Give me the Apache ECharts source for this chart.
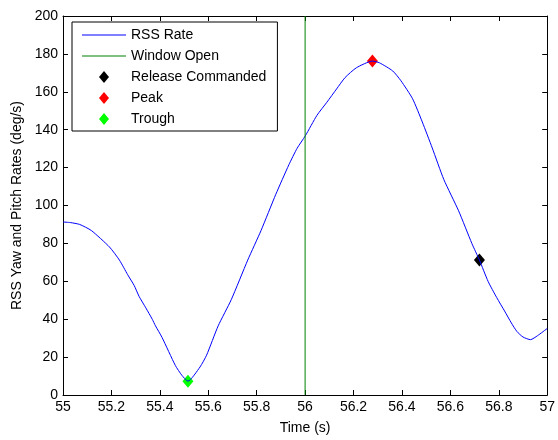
<!DOCTYPE html>
<html>
<head>
<meta charset="utf-8">
<script src="https://cdn.jsdelivr.net/npm/echarts@6/dist/echarts.min.js"></script>
<style>
html,body{margin:0;padding:0;background:#fff;}
#chart{width:558px;height:440px;}
</style>
</head>
<body>
<div id="chart"></div>
<script>
// Data
var timeS = [55.000, 55.030, 55.069, 55.117, 55.192, 55.233, 55.267, 55.294, 55.314, 55.342,
  55.369, 55.382, 55.409, 55.464, 55.491, 55.516, 55.566, 55.593, 55.641, 55.695,
  55.763, 55.818, 55.879, 55.933, 55.967, 56.001, 56.049, 56.090, 56.130, 56.165,
  56.212, 56.278, 56.307, 56.362, 56.396, 56.444, 56.484, 56.525, 56.573, 56.634,
  56.689, 56.720, 56.756, 56.791, 56.824, 56.852, 56.875, 56.900, 56.931, 56.960,
  57.000];
var rssRate = [91.3, 91.0, 90.0, 86.8, 78.1, 71.2, 63.5, 57.8, 52.1, 46.0,
  39.9, 36.5, 30.4, 15.6, 10.4, 7.3, 14.8, 21.0, 36.5, 50.3,
  71.2, 86.8, 105.9, 121.5, 130.2, 136.8, 147.6, 154.5, 161.5, 167.5,
  172.7, 176.2, 175.3, 171.0, 165.8, 156.3, 144.1, 130.4, 113.7, 97.2,
  79.9, 71.2, 59.9, 51.5, 44.3, 38.0, 33.5, 30.6, 29.2, 31.3,
  35.1];
var windowOpenT = 56.0;
var releasePt = [56.720, 71.2];
var peakPt = [56.278, 176.2];
var troughPt = [55.516, 7.3];
var xTicks = {min: 55, max: 57, step: 0.2};
var yTicks = {min: 0, max: 200, step: 20};
var legendNames = ['RSS Rate', 'Window Open', 'Release Commanded', 'Peak', 'Trough'];

var FONT = "'Liberation Sans', Arial, sans-serif";
var rssData = timeS.map(function (t, i) { return [t, rssRate[i]]; });
var LINE_ICON = 'path://M0,0H44V1H0Z';
var DIAMOND_ICON = 'path://M5,0L10,6L5,12L0,6Z';

function mkAxis(isX, main) {
  var tk = isX ? xTicks : yTicks;
  var a = {
    type: 'value',
    min: tk.min, max: tk.max, interval: tk.step,
    position: isX ? (main ? 'bottom' : 'top') : (main ? 'left' : 'right'),
    axisLine: {show: true, onZero: false, lineStyle: {color: '#000', width: 1}},
    axisTick: {show: true, inside: true, length: 5, lineStyle: {color: '#000', width: 1}},
    axisLabel: {show: main, color: '#000', fontSize: 14, fontFamily: FONT, margin: 5},
    splitLine: {show: false}
  };
  if (main) {
    a.name = isX ? 'Time (s)' : 'RSS Yaw and Pitch Rates (deg/s)';
    a.nameLocation = 'middle';
    a.nameGap = isX ? 26 : 36;
    a.nameTextStyle = {color: '#000', fontSize: 14, fontFamily: FONT};
  }
  return a;
}

var chart = echarts.init(document.getElementById('chart'), null, {renderer: 'canvas'});
chart.setOption({
  backgroundColor: '#fff',
  animation: false,
  grid: {left: 63, right: 5, top: 16, bottom: 40, containLabel: false},
  xAxis: [mkAxis(true, true), mkAxis(true, false)],
  yAxis: [mkAxis(false, true), mkAxis(false, false)],
  legend: {
    orient: 'vertical',
    left: 72, top: 22,
    padding: [6, 11, 5, 10],
    itemGap: 7,
    itemWidth: 44,
    itemHeight: 12,
    symbolKeepAspect: true,
    backgroundColor: '#fff',
    borderColor: '#000',
    borderWidth: 1,
    borderRadius: 0,
    selectedMode: false,
    textStyle: {color: '#000', fontSize: 14, fontFamily: FONT},
    data: [
      {name: legendNames[0], icon: LINE_ICON},
      {name: legendNames[1], icon: LINE_ICON},
      {name: legendNames[2], icon: DIAMOND_ICON},
      {name: legendNames[3], icon: DIAMOND_ICON},
      {name: legendNames[4], icon: DIAMOND_ICON}
    ]
  },
  series: [
    {
      name: legendNames[0], type: 'line', data: rssData,
      symbol: 'none', smooth: 0.2,
      lineStyle: {color: '#0000ff', width: 1},
      itemStyle: {color: '#0000ff'}
    },
    {
      name: legendNames[1], type: 'line',
      data: [[windowOpenT, yTicks.min], [windowOpenT, yTicks.max]],
      symbol: 'none',
      lineStyle: {color: '#008000', width: 1},
      itemStyle: {color: '#008000'}
    },
    {
      name: legendNames[2], type: 'scatter', data: [releasePt],
      symbol: 'diamond', symbolSize: [11, 13],
      itemStyle: {color: '#000000', opacity: 1}
    },
    {
      name: legendNames[3], type: 'scatter', data: [peakPt],
      symbol: 'diamond', symbolSize: [11, 13],
      itemStyle: {color: '#ff0000', opacity: 1}
    },
    {
      name: legendNames[4], type: 'scatter', data: [troughPt],
      symbol: 'diamond', symbolSize: [11, 13],
      itemStyle: {color: '#00ff00', opacity: 1}
    }
  ]
});
</script>
</body>
</html>
